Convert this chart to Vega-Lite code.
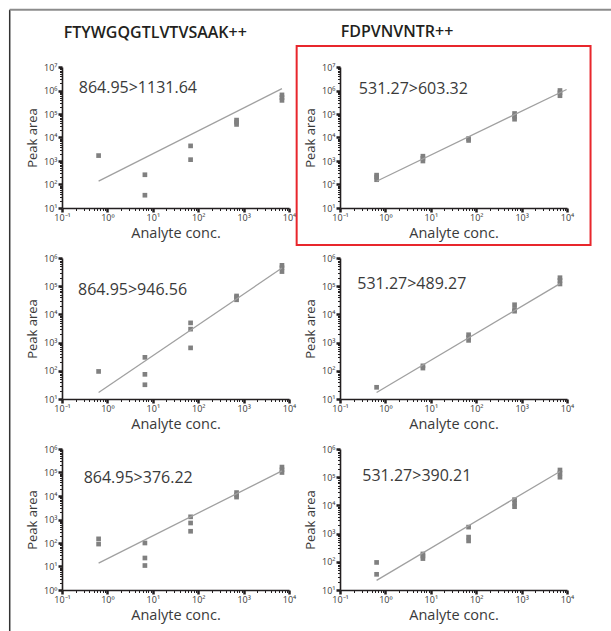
{
  "$schema": "https://vega.github.io/schema/vega-lite/v6.json",
  "padding": {"left": 8, "top": 8, "right": 0, "bottom": 0},
  "config": {
    "font": "Open Sans",
    "text": {"font": "Open Sans"},
    "view": {"stroke": null},
    "axis": {"grid": false, "domainColor": "#231f20", "domainWidth": 1.6, "tickColor": "#231f20", "labelFontSize": 9, "labelColor": "#3a3a3a", "titleFontSize": 14.5, "titleFontWeight": "normal", "titleColor": "#3a3a3a", "labelOverlap": false, "labelFlush": false, "labelBound": false}
  },
  "datasets": {
    "points": [
      {"panel": 1, "conc": 0.64, "area": 1700}, {"panel": 1, "conc": 6.7, "area": 260}, {"panel": 1, "conc": 6.7, "area": 35}, {"panel": 1, "conc": 68, "area": 4400}, {"panel": 1, "conc": 68, "area": 1140}, {"panel": 1, "conc": 700, "area": 36000}, {"panel": 1, "conc": 700, "area": 45000}, {"panel": 1, "conc": 700, "area": 55000}, {"panel": 1, "conc": 7000, "area": 380000}, {"panel": 1, "conc": 7000, "area": 500000}, {"panel": 1, "conc": 7000, "area": 650000},
      {"panel": 2, "conc": 0.64, "area": 160}, {"panel": 2, "conc": 0.64, "area": 210}, {"panel": 2, "conc": 0.64, "area": 250}, {"panel": 2, "conc": 6.7, "area": 1000}, {"panel": 2, "conc": 6.7, "area": 1300}, {"panel": 2, "conc": 6.7, "area": 1600}, {"panel": 2, "conc": 68, "area": 7500}, {"panel": 2, "conc": 68, "area": 9000}, {"panel": 2, "conc": 700, "area": 60000}, {"panel": 2, "conc": 700, "area": 80000}, {"panel": 2, "conc": 700, "area": 105000}, {"panel": 2, "conc": 7000, "area": 600000}, {"panel": 2, "conc": 7000, "area": 800000}, {"panel": 2, "conc": 7000, "area": 1000000},
      {"panel": 3, "conc": 0.64, "area": 95}, {"panel": 3, "conc": 6.7, "area": 300}, {"panel": 3, "conc": 6.7, "area": 75}, {"panel": 3, "conc": 6.7, "area": 32}, {"panel": 3, "conc": 68, "area": 5000}, {"panel": 3, "conc": 68, "area": 3000}, {"panel": 3, "conc": 68, "area": 650}, {"panel": 3, "conc": 700, "area": 33000}, {"panel": 3, "conc": 700, "area": 40000}, {"panel": 3, "conc": 700, "area": 45000}, {"panel": 3, "conc": 7000, "area": 330000}, {"panel": 3, "conc": 7000, "area": 450000}, {"panel": 3, "conc": 7000, "area": 550000},
      {"panel": 4, "conc": 0.64, "area": 26}, {"panel": 4, "conc": 6.7, "area": 125}, {"panel": 4, "conc": 6.7, "area": 150}, {"panel": 4, "conc": 68, "area": 1200}, {"panel": 4, "conc": 68, "area": 1500}, {"panel": 4, "conc": 68, "area": 1900}, {"panel": 4, "conc": 700, "area": 13000}, {"panel": 4, "conc": 700, "area": 15000}, {"panel": 4, "conc": 700, "area": 22000}, {"panel": 4, "conc": 7000, "area": 120000}, {"panel": 4, "conc": 7000, "area": 160000}, {"panel": 4, "conc": 7000, "area": 200000},
      {"panel": 5, "conc": 0.64, "area": 150}, {"panel": 5, "conc": 0.64, "area": 90}, {"panel": 5, "conc": 6.7, "area": 100}, {"panel": 5, "conc": 6.7, "area": 23}, {"panel": 5, "conc": 6.7, "area": 11}, {"panel": 5, "conc": 68, "area": 1300}, {"panel": 5, "conc": 68, "area": 710}, {"panel": 5, "conc": 68, "area": 316}, {"panel": 5, "conc": 700, "area": 9000}, {"panel": 5, "conc": 700, "area": 11000}, {"panel": 5, "conc": 700, "area": 14000}, {"panel": 5, "conc": 7000, "area": 100000}, {"panel": 5, "conc": 7000, "area": 130000}, {"panel": 5, "conc": 7000, "area": 170000},
      {"panel": 6, "conc": 0.64, "area": 95}, {"panel": 6, "conc": 0.64, "area": 36}, {"panel": 6, "conc": 6.7, "area": 130}, {"panel": 6, "conc": 6.7, "area": 160}, {"panel": 6, "conc": 6.7, "area": 190}, {"panel": 6, "conc": 68, "area": 1700}, {"panel": 6, "conc": 68, "area": 550}, {"panel": 6, "conc": 68, "area": 750}, {"panel": 6, "conc": 700, "area": 9000}, {"panel": 6, "conc": 700, "area": 12000}, {"panel": 6, "conc": 700, "area": 16000}, {"panel": 6, "conc": 7000, "area": 100000}, {"panel": 6, "conc": 7000, "area": 140000}, {"panel": 6, "conc": 7000, "area": 180000}
    ],
    "fits": [
      {"panel": 1, "conc": 0.64, "area": 140}, {"panel": 1, "conc": 7000, "area": 1200000},
      {"panel": 2, "conc": 0.64, "area": 138}, {"panel": 2, "conc": 9800, "area": 1100000},
      {"panel": 3, "conc": 0.64, "area": 17}, {"panel": 3, "conc": 7000, "area": 440000},
      {"panel": 4, "conc": 0.64, "area": 17}, {"panel": 4, "conc": 7000, "area": 123000},
      {"panel": 5, "conc": 0.64, "area": 14}, {"panel": 5, "conc": 7000, "area": 117000},
      {"panel": 6, "conc": 0.64, "area": 22}, {"panel": 6, "conc": 7000, "area": 160000}
    ],
    "labels": [
      {"panel": 1, "label": "864.95>1131.64", "peptide": "FTYWGQGTLVTVSAAK++"},
      {"panel": 2, "label": "531.27>603.32", "peptide": "FDPVNVNTR++"},
      {"panel": 3, "label": "864.95>946.56", "peptide": ""},
      {"panel": 4, "label": "531.27>489.27", "peptide": ""},
      {"panel": 5, "label": "864.95>376.22", "peptide": ""},
      {"panel": 6, "label": "531.27>390.21", "peptide": ""}
    ]
  },
  "columns": 2,
  "spacing": {"row": 50, "column": 51},
  "bounds": "flush",
  "concat": [
    {
      "width": 227, "height": 141,
      "layer": [
        {"data": {"name": "points"}, "transform": [{"filter": "datum.panel == 1"}],
         "mark": {"type": "square", "size": 22, "color": "#808080", "opacity": 1},
         "encoding": {
           "x": {"field": "conc", "type": "quantitative", "scale": {"type": "log", "domain": [0.1, 10000], "nice": false},
                 "axis": {"title": "Analyte conc.", "values": [0.1,0.2,0.3,0.4,0.5,0.6,0.7,0.8,0.9,1,2,3,4,5,6,7,8,9,10,20,30,40,50,60,70,80,90,100,200,300,400,500,600,700,800,900,1000,2000,3000,4000,5000,6000,7000,8000,9000,10000],
                          "labelExpr": "abs(log(datum.value)/LN10 - round(log(datum.value)/LN10)) < 0.01 ? '10' + ['⁻¹','⁰','¹','²','³','⁴','⁵','⁶','⁷'][round(log(datum.value)/LN10) + 1] : ''",
                          "tickSize": {"condition": {"test": "abs(log(datum.value)/LN10 - round(log(datum.value)/LN10)) < 0.01", "value": 4}, "value": 2.5},
                          "tickWidth": {"condition": {"test": "abs(log(datum.value)/LN10 - round(log(datum.value)/LN10)) < 0.01", "value": 2.5}, "value": 1},
                          "labelPadding": 1, "titlePadding": 4}},
           "y": {"field": "area", "type": "quantitative", "scale": {"type": "log", "domain": [10, 10000000], "nice": false},
                 "axis": {"title": "Peak area", "titleFontSize": 13, "values": [10,20,30,40,50,60,70,80,90,100,200,300,400,500,600,700,800,900,1000,2000,3000,4000,5000,6000,7000,8000,9000,10000,20000,30000,40000,50000,60000,70000,80000,90000,100000,200000,300000,400000,500000,600000,700000,800000,900000,1000000,2000000,3000000,4000000,5000000,6000000,7000000,8000000,9000000,10000000],
                          "labelExpr": "abs(log(datum.value)/LN10 - round(log(datum.value)/LN10)) < 0.01 ? '10' + ['⁻¹','⁰','¹','²','³','⁴','⁵','⁶','⁷'][round(log(datum.value)/LN10) + 1] : ''",
                          "tickSize": {"condition": {"test": "abs(log(datum.value)/LN10 - round(log(datum.value)/LN10)) < 0.01", "value": 4}, "value": 2.5},
                          "tickWidth": {"condition": {"test": "abs(log(datum.value)/LN10 - round(log(datum.value)/LN10)) < 0.01", "value": 2.5}, "value": 1},
                          "labelPadding": 1, "titlePadding": 4}}
         }},
        {"data": {"name": "fits"}, "transform": [{"filter": "datum.panel == 1"}],
         "mark": {"type": "line", "color": "#a0a0a0", "strokeWidth": 1.3},
         "encoding": {
           "x": {"field": "conc", "type": "quantitative", "scale": {"type": "log", "domain": [0.1, 10000], "nice": false}},
           "y": {"field": "area", "type": "quantitative", "scale": {"type": "log", "domain": [10, 10000000], "nice": false}}
         }},
        {"data": {"name": "labels"}, "transform": [{"filter": "datum.panel == 1"}],
         "mark": {"type": "text", "align": "left", "baseline": "alphabetic", "font": "Open Sans", "fontSize": 16, "color": "#3a3a3a"},
         "encoding": {
           "x": {"datum": 0.234, "scale": {"type": "log", "domain": [0.1, 10000], "nice": false}},
           "y": {"datum": 780000, "scale": {"type": "log", "domain": [10, 10000000], "nice": false}},
           "text": {"field": "label"}
         }},
        {"data": {"name": "labels"}, "transform": [{"filter": "datum.panel == 1"}],
         "mark": {"type": "text", "align": "left", "baseline": "alphabetic", "font": "Open Sans", "fontSize": 16, "fontWeight": 600, "color": "#231f20", "clip": false},
         "encoding": {
           "x": {"datum": 0.109, "scale": {"type": "log", "domain": [0.1, 10000], "nice": false}},
           "y": {"datum": 171000000, "scale": {"type": "log", "domain": [10, 10000000], "nice": false}},
           "text": {"field": "peptide"}
         }},
        {"data": {"values": [{}]},
         "mark": {"type": "rule", "color": "#333333", "strokeWidth": 1.5, "clip": false},
         "encoding": {
           "x": {"datum": 0.00705, "scale": {"type": "log", "domain": [0.1, 10000], "nice": false}},
           "y": {"datum": 2700000000, "scale": {"type": "log", "domain": [10, 10000000], "nice": false}},
           "y2": {"datum": 1e-18}
         }},
        {"data": {"values": [{}]},
         "mark": {"type": "rule", "color": "#8c8c8c", "strokeWidth": 2, "clip": false},
         "encoding": {
           "x": {"datum": 0.00705, "scale": {"type": "log", "domain": [0.1, 10000], "nice": false}},
           "x2": {"datum": 1000000000000},
           "y": {"datum": 2700000000, "scale": {"type": "log", "domain": [10, 10000000], "nice": false}}
         }}
      ]
    },
    {
      "width": 227, "height": 141,
      "layer": [
        {"data": {"name": "points"}, "transform": [{"filter": "datum.panel == 2"}],
         "mark": {"type": "square", "size": 22, "color": "#808080", "opacity": 1},
         "encoding": {
           "x": {"field": "conc", "type": "quantitative", "scale": {"type": "log", "domain": [0.1, 10000], "nice": false},
                 "axis": {"title": "Analyte conc.", "values": [0.1,0.2,0.3,0.4,0.5,0.6,0.7,0.8,0.9,1,2,3,4,5,6,7,8,9,10,20,30,40,50,60,70,80,90,100,200,300,400,500,600,700,800,900,1000,2000,3000,4000,5000,6000,7000,8000,9000,10000],
                          "labelExpr": "abs(log(datum.value)/LN10 - round(log(datum.value)/LN10)) < 0.01 ? '10' + ['⁻¹','⁰','¹','²','³','⁴','⁵','⁶','⁷'][round(log(datum.value)/LN10) + 1] : ''",
                          "tickSize": {"condition": {"test": "abs(log(datum.value)/LN10 - round(log(datum.value)/LN10)) < 0.01", "value": 4}, "value": 2.5},
                          "tickWidth": {"condition": {"test": "abs(log(datum.value)/LN10 - round(log(datum.value)/LN10)) < 0.01", "value": 2.5}, "value": 1},
                          "labelPadding": 1, "titlePadding": 4}},
           "y": {"field": "area", "type": "quantitative", "scale": {"type": "log", "domain": [10, 10000000], "nice": false},
                 "axis": {"title": "Peak area", "titleFontSize": 13, "values": [10,20,30,40,50,60,70,80,90,100,200,300,400,500,600,700,800,900,1000,2000,3000,4000,5000,6000,7000,8000,9000,10000,20000,30000,40000,50000,60000,70000,80000,90000,100000,200000,300000,400000,500000,600000,700000,800000,900000,1000000,2000000,3000000,4000000,5000000,6000000,7000000,8000000,9000000,10000000],
                          "labelExpr": "abs(log(datum.value)/LN10 - round(log(datum.value)/LN10)) < 0.01 ? '10' + ['⁻¹','⁰','¹','²','³','⁴','⁵','⁶','⁷'][round(log(datum.value)/LN10) + 1] : ''",
                          "tickSize": {"condition": {"test": "abs(log(datum.value)/LN10 - round(log(datum.value)/LN10)) < 0.01", "value": 4}, "value": 2.5},
                          "tickWidth": {"condition": {"test": "abs(log(datum.value)/LN10 - round(log(datum.value)/LN10)) < 0.01", "value": 2.5}, "value": 1},
                          "labelPadding": 1, "titlePadding": 4}}
         }},
        {"data": {"name": "fits"}, "transform": [{"filter": "datum.panel == 2"}],
         "mark": {"type": "line", "color": "#a0a0a0", "strokeWidth": 1.3},
         "encoding": {
           "x": {"field": "conc", "type": "quantitative", "scale": {"type": "log", "domain": [0.1, 10000], "nice": false}},
           "y": {"field": "area", "type": "quantitative", "scale": {"type": "log", "domain": [10, 10000000], "nice": false}}
         }},
        {"data": {"name": "labels"}, "transform": [{"filter": "datum.panel == 2"}],
         "mark": {"type": "text", "align": "left", "baseline": "alphabetic", "font": "Open Sans", "fontSize": 16, "color": "#3a3a3a"},
         "encoding": {
           "x": {"datum": 0.26, "scale": {"type": "log", "domain": [0.1, 10000], "nice": false}},
           "y": {"datum": 690000, "scale": {"type": "log", "domain": [10, 10000000], "nice": false}},
           "text": {"field": "label"}
         }},
        {"data": {"name": "labels"}, "transform": [{"filter": "datum.panel == 2"}],
         "mark": {"type": "text", "align": "left", "baseline": "alphabetic", "font": "Open Sans", "fontSize": 16, "fontWeight": 600, "color": "#231f20", "clip": false},
         "encoding": {
           "x": {"datum": 0.1035, "scale": {"type": "log", "domain": [0.1, 10000], "nice": false}},
           "y": {"datum": 195000000, "scale": {"type": "log", "domain": [10, 10000000], "nice": false}},
           "text": {"field": "peptide"}
         }},
        {"data": {"values": [{}]},
         "mark": {"type": "rect", "fill": "#ffffff", "fillOpacity": 0, "stroke": "#e8262c", "strokeWidth": 2, "clip": false},
         "encoding": {
           "x": {"datum": 0.0111, "scale": {"type": "log", "domain": [0.1, 10000], "nice": false}},
           "x2": {"datum": 33000},
           "y": {"datum": 78000000, "scale": {"type": "log", "domain": [10, 10000000], "nice": false}},
           "y2": {"datum": 0.267}
         }}
      ]
    },
    {
      "width": 227, "height": 141,
      "layer": [
        {"data": {"name": "points"}, "transform": [{"filter": "datum.panel == 3"}],
         "mark": {"type": "square", "size": 22, "color": "#808080", "opacity": 1},
         "encoding": {
           "x": {"field": "conc", "type": "quantitative", "scale": {"type": "log", "domain": [0.1, 10000], "nice": false},
                 "axis": {"title": "Analyte conc.", "values": [0.1,0.2,0.3,0.4,0.5,0.6,0.7,0.8,0.9,1,2,3,4,5,6,7,8,9,10,20,30,40,50,60,70,80,90,100,200,300,400,500,600,700,800,900,1000,2000,3000,4000,5000,6000,7000,8000,9000,10000],
                          "labelExpr": "abs(log(datum.value)/LN10 - round(log(datum.value)/LN10)) < 0.01 ? '10' + ['⁻¹','⁰','¹','²','³','⁴','⁵','⁶','⁷'][round(log(datum.value)/LN10) + 1] : ''",
                          "tickSize": {"condition": {"test": "abs(log(datum.value)/LN10 - round(log(datum.value)/LN10)) < 0.01", "value": 4}, "value": 2.5},
                          "tickWidth": {"condition": {"test": "abs(log(datum.value)/LN10 - round(log(datum.value)/LN10)) < 0.01", "value": 2.5}, "value": 1},
                          "labelPadding": 1, "titlePadding": 4}},
           "y": {"field": "area", "type": "quantitative", "scale": {"type": "log", "domain": [10, 1000000], "nice": false},
                 "axis": {"title": "Peak area", "titleFontSize": 13, "values": [10,20,30,40,50,60,70,80,90,100,200,300,400,500,600,700,800,900,1000,2000,3000,4000,5000,6000,7000,8000,9000,10000,20000,30000,40000,50000,60000,70000,80000,90000,100000,200000,300000,400000,500000,600000,700000,800000,900000,1000000],
                          "labelExpr": "abs(log(datum.value)/LN10 - round(log(datum.value)/LN10)) < 0.01 ? '10' + ['⁻¹','⁰','¹','²','³','⁴','⁵','⁶','⁷'][round(log(datum.value)/LN10) + 1] : ''",
                          "tickSize": {"condition": {"test": "abs(log(datum.value)/LN10 - round(log(datum.value)/LN10)) < 0.01", "value": 4}, "value": 2.5},
                          "tickWidth": {"condition": {"test": "abs(log(datum.value)/LN10 - round(log(datum.value)/LN10)) < 0.01", "value": 2.5}, "value": 1},
                          "labelPadding": 1, "titlePadding": 4}}
         }},
        {"data": {"name": "fits"}, "transform": [{"filter": "datum.panel == 3"}],
         "mark": {"type": "line", "color": "#a0a0a0", "strokeWidth": 1.3},
         "encoding": {
           "x": {"field": "conc", "type": "quantitative", "scale": {"type": "log", "domain": [0.1, 10000], "nice": false}},
           "y": {"field": "area", "type": "quantitative", "scale": {"type": "log", "domain": [10, 1000000], "nice": false}}
         }},
        {"data": {"name": "labels"}, "transform": [{"filter": "datum.panel == 3"}],
         "mark": {"type": "text", "align": "left", "baseline": "alphabetic", "font": "Open Sans", "fontSize": 16, "color": "#3a3a3a"},
         "encoding": {
           "x": {"datum": 0.225, "scale": {"type": "log", "domain": [0.1, 10000], "nice": false}},
           "y": {"datum": 47000, "scale": {"type": "log", "domain": [10, 1000000], "nice": false}},
           "text": {"field": "label"}
         }}
      ]
    },
    {
      "width": 227, "height": 141,
      "layer": [
        {"data": {"name": "points"}, "transform": [{"filter": "datum.panel == 4"}],
         "mark": {"type": "square", "size": 22, "color": "#808080", "opacity": 1},
         "encoding": {
           "x": {"field": "conc", "type": "quantitative", "scale": {"type": "log", "domain": [0.1, 10000], "nice": false},
                 "axis": {"title": "Analyte conc.", "values": [0.1,0.2,0.3,0.4,0.5,0.6,0.7,0.8,0.9,1,2,3,4,5,6,7,8,9,10,20,30,40,50,60,70,80,90,100,200,300,400,500,600,700,800,900,1000,2000,3000,4000,5000,6000,7000,8000,9000,10000],
                          "labelExpr": "abs(log(datum.value)/LN10 - round(log(datum.value)/LN10)) < 0.01 ? '10' + ['⁻¹','⁰','¹','²','³','⁴','⁵','⁶','⁷'][round(log(datum.value)/LN10) + 1] : ''",
                          "tickSize": {"condition": {"test": "abs(log(datum.value)/LN10 - round(log(datum.value)/LN10)) < 0.01", "value": 4}, "value": 2.5},
                          "tickWidth": {"condition": {"test": "abs(log(datum.value)/LN10 - round(log(datum.value)/LN10)) < 0.01", "value": 2.5}, "value": 1},
                          "labelPadding": 1, "titlePadding": 4}},
           "y": {"field": "area", "type": "quantitative", "scale": {"type": "log", "domain": [10, 1000000], "nice": false},
                 "axis": {"title": "Peak area", "titleFontSize": 13, "values": [10,20,30,40,50,60,70,80,90,100,200,300,400,500,600,700,800,900,1000,2000,3000,4000,5000,6000,7000,8000,9000,10000,20000,30000,40000,50000,60000,70000,80000,90000,100000,200000,300000,400000,500000,600000,700000,800000,900000,1000000],
                          "labelExpr": "abs(log(datum.value)/LN10 - round(log(datum.value)/LN10)) < 0.01 ? '10' + ['⁻¹','⁰','¹','²','³','⁴','⁵','⁶','⁷'][round(log(datum.value)/LN10) + 1] : ''",
                          "tickSize": {"condition": {"test": "abs(log(datum.value)/LN10 - round(log(datum.value)/LN10)) < 0.01", "value": 4}, "value": 2.5},
                          "tickWidth": {"condition": {"test": "abs(log(datum.value)/LN10 - round(log(datum.value)/LN10)) < 0.01", "value": 2.5}, "value": 1},
                          "labelPadding": 1, "titlePadding": 4}}
         }},
        {"data": {"name": "fits"}, "transform": [{"filter": "datum.panel == 4"}],
         "mark": {"type": "line", "color": "#a0a0a0", "strokeWidth": 1.3},
         "encoding": {
           "x": {"field": "conc", "type": "quantitative", "scale": {"type": "log", "domain": [0.1, 10000], "nice": false}},
           "y": {"field": "area", "type": "quantitative", "scale": {"type": "log", "domain": [10, 1000000], "nice": false}}
         }},
        {"data": {"name": "labels"}, "transform": [{"filter": "datum.panel == 4"}],
         "mark": {"type": "text", "align": "left", "baseline": "alphabetic", "font": "Open Sans", "fontSize": 16, "color": "#3a3a3a"},
         "encoding": {
           "x": {"datum": 0.24, "scale": {"type": "log", "domain": [0.1, 10000], "nice": false}},
           "y": {"datum": 79000, "scale": {"type": "log", "domain": [10, 1000000], "nice": false}},
           "text": {"field": "label"}
         }}
      ]
    },
    {
      "width": 227, "height": 141,
      "layer": [
        {"data": {"name": "points"}, "transform": [{"filter": "datum.panel == 5"}],
         "mark": {"type": "square", "size": 22, "color": "#808080", "opacity": 1},
         "encoding": {
           "x": {"field": "conc", "type": "quantitative", "scale": {"type": "log", "domain": [0.1, 10000], "nice": false},
                 "axis": {"title": "Analyte conc.", "values": [0.1,0.2,0.3,0.4,0.5,0.6,0.7,0.8,0.9,1,2,3,4,5,6,7,8,9,10,20,30,40,50,60,70,80,90,100,200,300,400,500,600,700,800,900,1000,2000,3000,4000,5000,6000,7000,8000,9000,10000],
                          "labelExpr": "abs(log(datum.value)/LN10 - round(log(datum.value)/LN10)) < 0.01 ? '10' + ['⁻¹','⁰','¹','²','³','⁴','⁵','⁶','⁷'][round(log(datum.value)/LN10) + 1] : ''",
                          "tickSize": {"condition": {"test": "abs(log(datum.value)/LN10 - round(log(datum.value)/LN10)) < 0.01", "value": 4}, "value": 2.5},
                          "tickWidth": {"condition": {"test": "abs(log(datum.value)/LN10 - round(log(datum.value)/LN10)) < 0.01", "value": 2.5}, "value": 1},
                          "labelPadding": 1, "titlePadding": 4}},
           "y": {"field": "area", "type": "quantitative", "scale": {"type": "log", "domain": [1, 1000000], "nice": false},
                 "axis": {"title": "Peak area", "titleFontSize": 13, "values": [1,2,3,4,5,6,7,8,9,10,20,30,40,50,60,70,80,90,100,200,300,400,500,600,700,800,900,1000,2000,3000,4000,5000,6000,7000,8000,9000,10000,20000,30000,40000,50000,60000,70000,80000,90000,100000,200000,300000,400000,500000,600000,700000,800000,900000,1000000],
                          "labelExpr": "abs(log(datum.value)/LN10 - round(log(datum.value)/LN10)) < 0.01 ? '10' + ['⁻¹','⁰','¹','²','³','⁴','⁵','⁶','⁷'][round(log(datum.value)/LN10) + 1] : ''",
                          "tickSize": {"condition": {"test": "abs(log(datum.value)/LN10 - round(log(datum.value)/LN10)) < 0.01", "value": 4}, "value": 2.5},
                          "tickWidth": {"condition": {"test": "abs(log(datum.value)/LN10 - round(log(datum.value)/LN10)) < 0.01", "value": 2.5}, "value": 1},
                          "labelPadding": 1, "titlePadding": 4}}
         }},
        {"data": {"name": "fits"}, "transform": [{"filter": "datum.panel == 5"}],
         "mark": {"type": "line", "color": "#a0a0a0", "strokeWidth": 1.3},
         "encoding": {
           "x": {"field": "conc", "type": "quantitative", "scale": {"type": "log", "domain": [0.1, 10000], "nice": false}},
           "y": {"field": "area", "type": "quantitative", "scale": {"type": "log", "domain": [1, 1000000], "nice": false}}
         }},
        {"data": {"name": "labels"}, "transform": [{"filter": "datum.panel == 5"}],
         "mark": {"type": "text", "align": "left", "baseline": "alphabetic", "font": "Open Sans", "fontSize": 16, "color": "#3a3a3a"},
         "encoding": {
           "x": {"datum": 0.3, "scale": {"type": "log", "domain": [0.1, 10000], "nice": false}},
           "y": {"datum": 37000, "scale": {"type": "log", "domain": [1, 1000000], "nice": false}},
           "text": {"field": "label"}
         }}
      ]
    },
    {
      "width": 227, "height": 141,
      "layer": [
        {"data": {"name": "points"}, "transform": [{"filter": "datum.panel == 6"}],
         "mark": {"type": "square", "size": 22, "color": "#808080", "opacity": 1},
         "encoding": {
           "x": {"field": "conc", "type": "quantitative", "scale": {"type": "log", "domain": [0.1, 10000], "nice": false},
                 "axis": {"title": "Analyte conc.", "values": [0.1,0.2,0.3,0.4,0.5,0.6,0.7,0.8,0.9,1,2,3,4,5,6,7,8,9,10,20,30,40,50,60,70,80,90,100,200,300,400,500,600,700,800,900,1000,2000,3000,4000,5000,6000,7000,8000,9000,10000],
                          "labelExpr": "abs(log(datum.value)/LN10 - round(log(datum.value)/LN10)) < 0.01 ? '10' + ['⁻¹','⁰','¹','²','³','⁴','⁵','⁶','⁷'][round(log(datum.value)/LN10) + 1] : ''",
                          "tickSize": {"condition": {"test": "abs(log(datum.value)/LN10 - round(log(datum.value)/LN10)) < 0.01", "value": 4}, "value": 2.5},
                          "tickWidth": {"condition": {"test": "abs(log(datum.value)/LN10 - round(log(datum.value)/LN10)) < 0.01", "value": 2.5}, "value": 1},
                          "labelPadding": 1, "titlePadding": 4}},
           "y": {"field": "area", "type": "quantitative", "scale": {"type": "log", "domain": [10, 1000000], "nice": false},
                 "axis": {"title": "Peak area", "titleFontSize": 13, "values": [10,20,30,40,50,60,70,80,90,100,200,300,400,500,600,700,800,900,1000,2000,3000,4000,5000,6000,7000,8000,9000,10000,20000,30000,40000,50000,60000,70000,80000,90000,100000,200000,300000,400000,500000,600000,700000,800000,900000,1000000],
                          "labelExpr": "abs(log(datum.value)/LN10 - round(log(datum.value)/LN10)) < 0.01 ? '10' + ['⁻¹','⁰','¹','²','³','⁴','⁵','⁶','⁷'][round(log(datum.value)/LN10) + 1] : ''",
                          "tickSize": {"condition": {"test": "abs(log(datum.value)/LN10 - round(log(datum.value)/LN10)) < 0.01", "value": 4}, "value": 2.5},
                          "tickWidth": {"condition": {"test": "abs(log(datum.value)/LN10 - round(log(datum.value)/LN10)) < 0.01", "value": 2.5}, "value": 1},
                          "labelPadding": 1, "titlePadding": 4}}
         }},
        {"data": {"name": "fits"}, "transform": [{"filter": "datum.panel == 6"}],
         "mark": {"type": "line", "color": "#a0a0a0", "strokeWidth": 1.3},
         "encoding": {
           "x": {"field": "conc", "type": "quantitative", "scale": {"type": "log", "domain": [0.1, 10000], "nice": false}},
           "y": {"field": "area", "type": "quantitative", "scale": {"type": "log", "domain": [10, 1000000], "nice": false}}
         }},
        {"data": {"name": "labels"}, "transform": [{"filter": "datum.panel == 6"}],
         "mark": {"type": "text", "align": "left", "baseline": "alphabetic", "font": "Open Sans", "fontSize": 16, "color": "#3a3a3a"},
         "encoding": {
           "x": {"datum": 0.31, "scale": {"type": "log", "domain": [0.1, 10000], "nice": false}},
           "y": {"datum": 76000, "scale": {"type": "log", "domain": [10, 1000000], "nice": false}},
           "text": {"field": "label"}
         }}
      ]
    }
  ]
}
